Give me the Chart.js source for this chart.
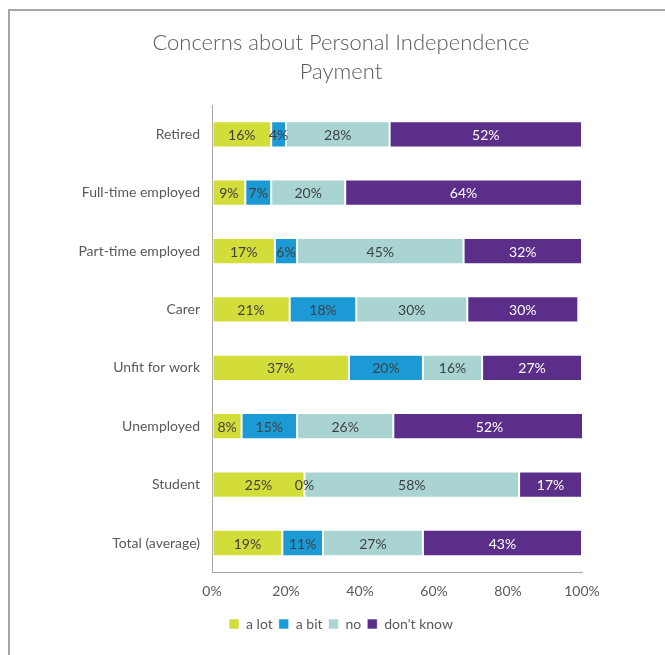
<!DOCTYPE html>
<html>
<head>
<meta charset="utf-8">
<script src="https://cdn.jsdelivr.net/npm/chart.js@4.4.0/dist/chart.umd.min.js"></script>
<style>
  body { margin: 0; background: #fff; }
  #frame { position: absolute; left: 8px; top: 9px; width: 700px; height: 700px;
    border-top: 2px solid #a6a6a6; border-left: 2px solid #a6a6a6; }
  #wrap { position: absolute; left: 0; top: 0; }
</style>
</head>
<body>
<div id="frame"></div>
<div id="wrap"><canvas id="myChart" width="665" height="655"></canvas></div>
<script>
'use strict';
// categories and series (percent)
let groups = ['Retired', 'Full-time employed', 'Part-time employed', 'Carer', 'Unfit for work', 'Unemployed', 'Student', 'Total (average)'];
let aLot = [16, 9, 17, 21, 37, 8, 25, 19];
let aBit = [4, 7, 6, 18, 20, 15, 0, 11];
let no = [28, 20, 45, 30, 16, 26, 58, 27];
let dontKnow = [52, 64, 32, 30, 27, 52, 17, 43];
let xTicks = [0, 20, 40, 60, 80, 100];

let textColor = '#595959';
let fontName = 'Lato, "Open Sans", sans-serif';

// writes the value in the middle of every bar piece
let valueLabels = {
  id: 'valueLabels',
  afterDatasetsDraw(chart){
    let ctx = chart.ctx;
    ctx.save();
    ctx.font = '14px ' + fontName;
    ctx.textAlign = 'center';
    ctx.textBaseline = 'middle';
    chart.data.datasets.forEach(function(ds, i){
      let meta = chart.getDatasetMeta(i);
      meta.data.forEach(function(bar, j){
        ctx.fillStyle = ds.labelColor;
        ctx.fillText(ds.data[j] + '%', (bar.x + bar.base) / 2, bar.y + 1);
      });
    });
    ctx.restore();
  }
};

function makeSet(label, data, color, labelColor){
  return {
    label: label,
    data: data,
    backgroundColor: color,
    borderColor: 'rgba(255,255,255,0.6)',
    borderWidth: 1,
    borderSkipped: false,
    labelColor: labelColor,
    barPercentage: 0.9,
    categoryPercentage: 0.5
  };
}

let ctx = document.getElementById('myChart');
let myChart = new Chart(ctx, {
  type: 'bar',
  data: {
    labels: groups,
    datasets: [
      makeSet('a lot', aLot, '#d2dd3a', '#404040'),
      makeSet('a bit', aBit, '#1b9ad5', '#404040'),
      makeSet('no', no, '#a9d4d2', '#404040'),
      makeSet("don't know", dontKnow, '#5a2e89', '#ffffff')
    ]
  },
  plugins: [valueLabels],
  options: {
    indexAxis: 'y',
    responsive: false,
    animation: false,
    // padding keeps the title and legend centred like the original
    layout: { padding: { left: 17, right: 0, top: 0, bottom: 14 } },
    plugins: {
      title: {
        display: true,
        text: ['Concerns about Personal Independence', 'Payment'],
        color: textColor,
        font: { family: fontName, size: 22, weight: 300, lineHeight: 1.32 },
        padding: { top: 28, bottom: 19 }
      },
      legend: {
        position: 'bottom',
        labels: {
          color: textColor,
          boxWidth: 10,
          boxHeight: 10,
          padding: 6,
          font: { family: fontName, size: 14 }
        }
      },
      tooltip: { enabled: false }
    },
    scales: {
      x: {
        stacked: true,
        min: 0,
        max: 100,
        afterBuildTicks: function(scale){
          scale.ticks = xTicks.map(function(v){ return { value: v }; });
        },
        ticks: {
          color: textColor,
          padding: 11,
          font: { family: fontName, size: 14 },
          callback: function(v){ return v + '%'; }
        },
        grid: { drawOnChartArea: false, drawTicks: false },
        border: { display: true, color: '#a6a6a6', width: 1 }
      },
      y: {
        stacked: true,
        afterFit: function(scale){ scale.width = 195; },
        ticks: {
          color: textColor,
          padding: 12,
          font: { family: fontName, size: 14 }
        },
        grid: { drawOnChartArea: false, drawTicks: false },
        border: { display: true, color: '#a6a6a6', width: 1 }
      },
      // empty space on the right so the plot ends at 100% like the original
      spacer: {
        type: 'category',
        position: 'right',
        afterFit: function(scale){ scale.width = 83; },
        ticks: { display: false },
        grid: { display: false },
        border: { display: false }
      }
    }
  }
});
</script>
</body>
</html>
